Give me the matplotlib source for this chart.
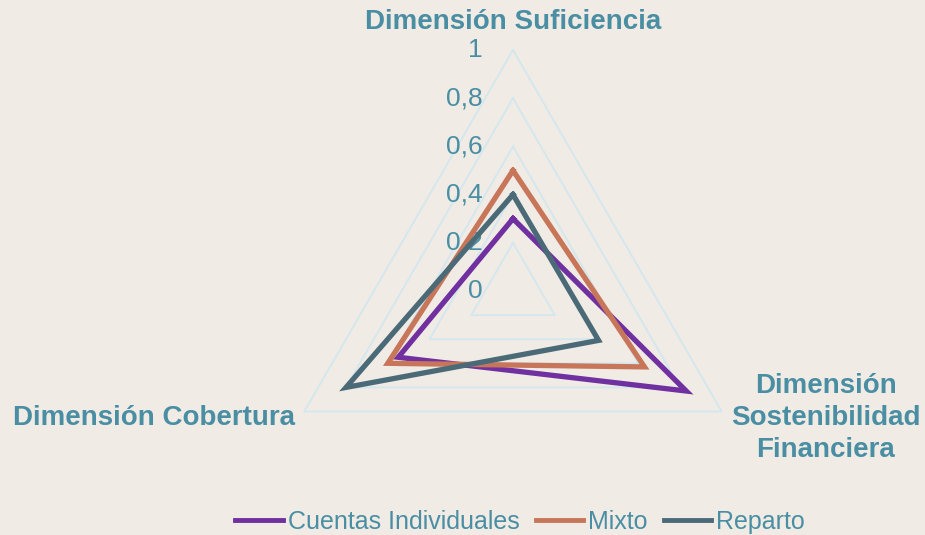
import matplotlib.pyplot as plt
import numpy as np

plt.rcParams['font.family'] = ['Liberation Sans', 'DejaVu Sans']

dimensiones = ['Dimensión Suficiencia', 'Dimensión\nSostenibilidad\nFinanciera', 'Dimensión Cobertura']
cuentas = [0.3, 0.83, 0.55]
mixto = [0.5, 0.63, 0.6]
reparto = [0.4, 0.41, 0.8]
series = ['Cuentas Individuales', 'Mixto', 'Reparto']
colores = ['#7030a0', '#c8765a', '#4b6a77']
niveles = [0.2, 0.4, 0.6, 0.8, 1.0]
tick_labels = ['0', '0,2', '0,4', '0,6', '0,8', '1']

bg = '#f0ebe5'
txt = '#4a8ea3'
grid = '#d3e7ef'

ang = np.array([0, 2 * np.pi / 3, 4 * np.pi / 3])

def xy(r):
    r = np.asarray(r, dtype=float)
    x = r * np.sin(ang)
    y = r * np.cos(ang)
    return np.append(x, x[0]), np.append(y, y[0])

fig = plt.figure(figsize=(9.25, 5.35), dpi=100, facecolor=bg)
ax = fig.add_axes([0, 0, 1, 1])
ax.set_facecolor(bg)
sc = 241.0
ax.set_xlim(-513 / sc, (925 - 513) / sc)
ax.set_ylim(-244 / sc, 291 / sc)
ax.axis('off')

for lv in niveles:
    gx, gy = xy([lv] * 3)
    ax.plot(gx, gy, color=grid, lw=1.3, zorder=1)

for vals, name, c in zip([cuentas, mixto, reparto], series, colores):
    px, py = xy(vals)
    ax.plot(px, py, color=c, lw=3.8, label=name, zorder=3, solid_joinstyle='miter')

for i, t in enumerate(tick_labels):
    ax.text(-30 / sc, i * 0.2, t, ha='right', va='center', fontsize=19, color=txt, zorder=2)

ax.text(0, 1.115, dimensiones[0], ha='center', va='center', fontsize=20, fontweight='bold', color=txt)
ax.text(313 / sc, -127 / sc, dimensiones[1], ha='center', va='center', fontsize=20,
        fontweight='bold', color=txt, linespacing=1.32)
ax.text(-218 / sc, -127 / sc, dimensiones[2], ha='right', va='center', fontsize=20,
        fontweight='bold', color=txt)

leg = fig.legend(loc='center', bbox_to_anchor=(520 / 925, 13 / 535), ncol=3, frameon=False,
                 fontsize=18, handlelength=1.9, handletextpad=0.2, columnspacing=0.65,
                 borderpad=0)
for t in leg.get_texts():
    t.set_color(txt)
for h in leg.legend_handles:
    h.set_linewidth(3.5)

fig.savefig('out.png', dpi=100, facecolor=bg)
